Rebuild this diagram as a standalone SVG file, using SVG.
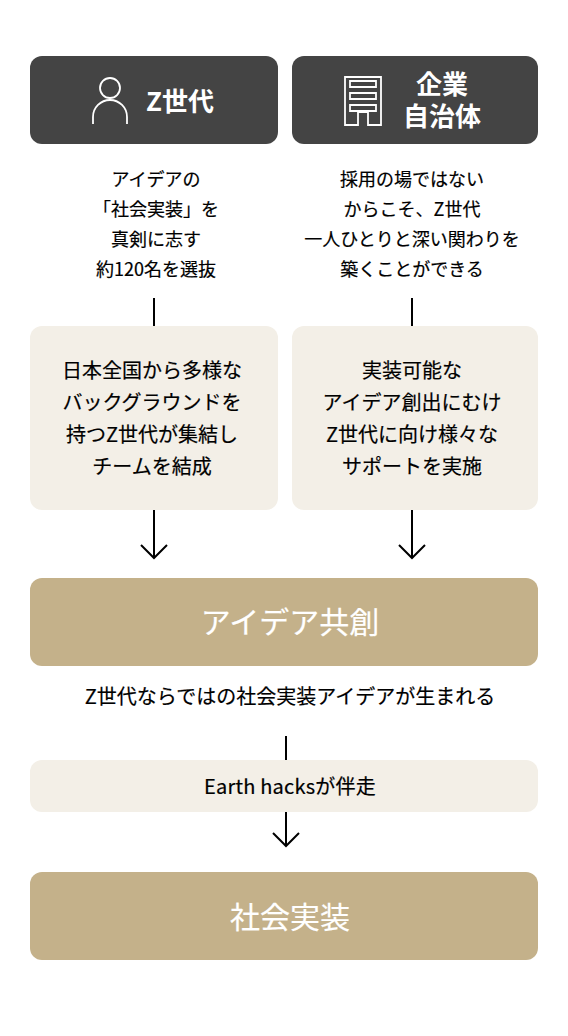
<svg xmlns="http://www.w3.org/2000/svg" width="568" height="1036" viewBox="0 0 568 1036">
<style>
text{font-family:"Noto Sans CJK JP","Noto Sans",sans-serif;text-anchor:middle;fill:#000}
.d{fill:#444}.l{fill:#f3efe7}.g{fill:#c4b18a}
.h{fill:#fff;font-size:26px;font-weight:700}
.t{font-size:18px;font-weight:400;stroke:#000;stroke-width:.2px}
.b{font-size:20px;font-weight:400;stroke:#000;stroke-width:.2px}
.m{letter-spacing:.2px}
.w{fill:#fff;font-size:30px;font-weight:400;stroke:#fff;stroke-width:.2px}
.i{fill:none;stroke:#fff;stroke-width:1.8}
.c{fill:none;stroke:#000;stroke-width:2}
</style>
<rect width="568" height="1036" fill="#fff"/>
<g id="connectors">
<path class="c" d="M154 298V326M412 298V326M154 510V558M141 545L154 558L167 545M412 510V558M399 545L412 558L425 545M286 736V760M286 812V846M273 833L286 846L299 833"/>
</g>
<g id="node-z"><rect class="d" x="30" y="56" width="248" height="88" rx="12"/>
<circle class="i" cx="110" cy="88" r="10"/><path class="i" d="M93 124V117A17 17 0 0 1 127 117V124"/>
<text class="h" x="180" y="111">Z世代</text></g>
<g id="node-corp"><rect class="d" x="292" y="56" width="246" height="88" rx="12"/>
<path class="i" d="M345 77H381V125H368V112H358V125H345ZM350 81H376V87H350ZM350 93H376V99H350ZM350 105H376V111H350Z"/>
<text class="h"><tspan x="442" y="94">企業</tspan><tspan x="442" y="126">自治体</tspan></text></g>
<g id="text-z"><text class="t" x="156" y="186">アイデアの</text><text class="t" x="156" y="216">「社会実装」を</text><text class="t" x="156" y="246">真剣に志す</text><text class="t" x="156" y="276">約120名を選抜</text></g>
<g id="text-corp"><text class="t" x="412" y="186">採用の場ではない</text><text class="t" x="412" y="216">からこそ、Z世代</text><text class="t" x="412" y="246">一人ひとりと深い関わりを</text><text class="t" x="412" y="276">築くことができる</text></g>
<g id="node-team"><rect class="l" x="30" y="326" width="248" height="184" rx="12"/>
<text class="b" x="152" y="378">日本全国から多様な</text><text class="b" x="152" y="410">バックグラウンドを</text><text class="b" x="152" y="442">持つZ世代が集結し</text><text class="b" x="152" y="474">チームを結成</text></g>
<g id="node-support"><rect class="l" x="292" y="326" width="246" height="184" rx="12"/>
<text class="b" x="412" y="378">実装可能な</text><text class="b" x="412" y="410">アイデア創出にむけ</text><text class="b" x="412" y="442">Z世代に向け様々な</text><text class="b" x="412" y="474">サポートを実施</text></g>
<g id="node-cocreate"><rect class="g" x="30" y="578" width="508" height="88" rx="12"/><text class="w" x="290" y="633">アイデア共創</text></g>
<g id="text-ideas"><text class="b" x="290" y="704">Z世代ならではの社会実装アイデアが生まれる</text></g>
<g id="node-earth"><rect class="l" x="30" y="760" width="508" height="52" rx="12"/><text class="b m" x="290" y="794">Earth hacksが伴走</text></g>
<g id="node-impl"><rect class="g" x="30" y="872" width="508" height="88" rx="12"/><text class="w" x="290" y="928">社会実装</text></g>
</svg>
